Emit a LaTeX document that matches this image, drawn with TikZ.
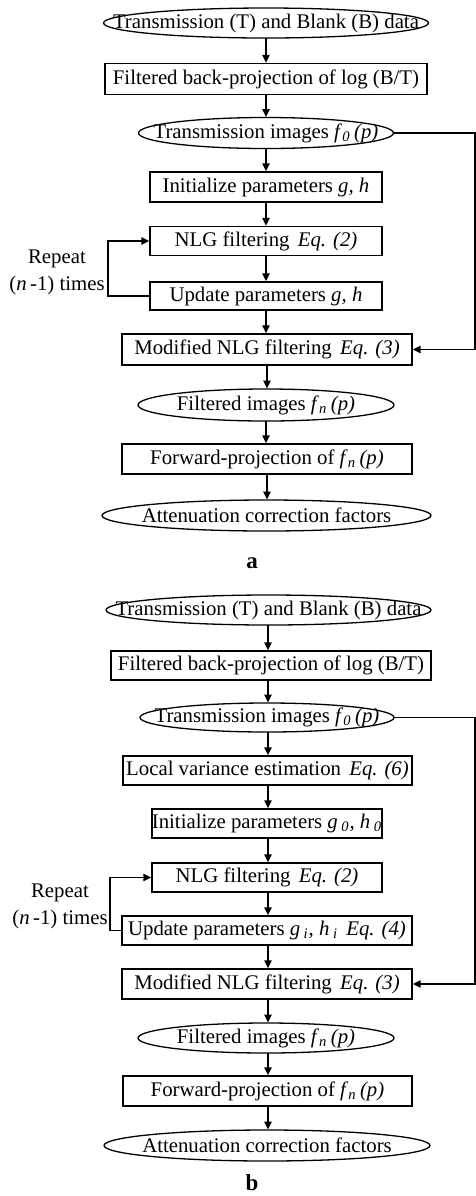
\documentclass[tikz,border=0pt]{standalone}
\usepackage{fontspec}
\setmainfont{Liberation Serif}
\usetikzlibrary{arrows.meta}
\newcommand{\fsub}[1]{\textit{f}\textsubscript{\textit{#1}}\,\textit{(p)}}
\begin{document}
\begin{tikzpicture}[x=0.5pt,y=-0.5pt,
  every node/.style={font=\fontsize{10.4}{12.5}\selectfont, inner sep=0pt},
  stepbox/.style={draw, line width=0.65pt},
  ellbox/.style={},
  ellline/.style={line width=0.65pt},
  flow/.style={line width=0.8pt, -{Triangle[length=4pt,width=3.6pt]}},
  lbl/.style={font=\fontsize{11.5}{13}\selectfont\bfseries},
  reptext/.style={align=center, font=\fontsize{10.4}{13.5}\selectfont}
]
\useasboundingbox (0,0) rectangle (476,1196);

% ---------------- part a ----------------
\node[ellbox, minimum width=162.5pt, minimum height=15pt] (a1) at (266,23) {Transmission (T) and Blank (B) data};
\draw[ellline] (a1.center) ellipse [x radius=81.25pt, y radius=7.5pt];
\node[stepbox, minimum width=161pt, minimum height=15.5pt] (a2) at (266,79) {Filtered back-projection of log (B/T)};
\node[ellbox, minimum width=127.5pt, minimum height=15.5pt] (a3) at (266,133) {Transmission images \fsub{0}};
\draw[ellline] (a3.center) ellipse [x radius=63.75pt, y radius=7.75pt];
\node[stepbox, minimum width=116pt, minimum height=15pt] (a4) at (266,187) {Initialize parameters \textit{g, h}};
\node[stepbox, minimum width=116pt, minimum height=14.5pt] (a5) at (266,241) {NLG filtering\hspace{0.4em}\textit{Eq. (2)}};
\node[stepbox, minimum width=116pt, minimum height=14pt] (a6) at (266,296) {Update parameters \textit{g, h}};
\node[stepbox, minimum width=145pt, minimum height=15.5pt] (a7) at (267,349.5) {Modified NLG filtering\hspace{0.4em}\textit{Eq. (3)}};
\node[ellbox, minimum width=128pt, minimum height=16pt] (a8) at (266,405) {Filtered images \fsub{n}};
\draw[ellline] (a8.center) ellipse [x radius=64pt, y radius=8pt];
\node[stepbox, minimum width=145pt, minimum height=15pt] (a9) at (267,459) {Forward-projection of \fsub{n}};
\node[ellbox, minimum width=164.5pt, minimum height=15.5pt] (a10) at (266.5,515.5) {Attenuation correction factors};
\draw[ellline] (a10.center) ellipse [x radius=82.25pt, y radius=7.75pt];
\node[lbl] (la) at (252,563) {a};

\draw[flow] (a1.south) -- (a1.south |- a2.north);
\draw[flow] (a2.south) -- (a2.south |- a3.north);
\draw[flow] (a3.south) -- (a3.south |- a4.north);
\draw[flow] (a4.south) -- (a4.south |- a5.north);
\draw[flow] (a5.south) -- (a5.south |- a6.north);
\draw[flow] (a6.south) -- (a6.south |- a7.north);
\draw[flow] (a7.south) -- (a7.south |- a8.north);
\draw[flow] (a8.south) -- (a8.south |- a9.north);
\draw[flow] (a9.south) -- (a9.south |- a10.north);

\coordinate (ra) at (475,0);
\draw[flow] (a3.east) -- (a3.east -| ra) |- (a7.east);
\coordinate (loopa) at (108,0);
\draw[flow] (a6.west) -- (a6.west -| loopa) |- (a5.west);
\node[reptext] (repa) at (57,272) {Repeat\\(\textit{n}\,-1) times};

% ---------------- part b ----------------
\node[ellbox, minimum width=162.5pt, minimum height=15pt] (b1) at (268.5,610) {Transmission (T) and Blank (B) data};
\draw[ellline] (b1.center) ellipse [x radius=81.25pt, y radius=7.5pt];
\node[stepbox, minimum width=160pt, minimum height=14.5pt] (b2) at (271,665.5) {Filtered back-projection of log (B/T)};
\node[ellbox, minimum width=127pt, minimum height=14.5pt] (b3) at (267,717.5) {Transmission images \fsub{0}};
\draw[ellline] (b3.center) ellipse [x radius=63.5pt, y radius=7.25pt];
\node[stepbox, minimum width=144.5pt, minimum height=14.5pt] (b4) at (267.5,770.5) {Local variance estimation\hspace{0.4em}\textit{Eq. (6)}};
\node[stepbox, minimum width=115pt, minimum height=14.5pt] (b5) at (267,823.5) {Initialize parameters \textit{g}\,\textsubscript{\textit{0}}, \textit{h}\,\textsubscript{\textit{0}}};
\node[stepbox, minimum width=115pt, minimum height=14.5pt] (b6) at (267,877.5) {NLG filtering\hspace{0.4em}\textit{Eq. (2)}};
\node[stepbox, minimum width=145pt, minimum height=14.5pt] (b7) at (267,930.5) {Update parameters \textit{g}\,\textsubscript{\textit{i}}, \textit{h}\,\textsubscript{\textit{i}}\hspace{0.4em}\textit{Eq. (4)}};
\node[stepbox, minimum width=145pt, minimum height=15pt] (b8) at (267,984) {Modified NLG filtering\hspace{0.4em}\textit{Eq. (3)}};
\node[ellbox, minimum width=128pt, minimum height=15pt] (b9) at (266,1038) {Filtered images \fsub{n}};
\draw[ellline] (b9.center) ellipse [x radius=64pt, y radius=7.5pt];
\node[stepbox, minimum width=144.5pt, minimum height=15pt] (b10) at (267.5,1091) {Forward-projection of \fsub{n}};
\node[ellbox, minimum width=163pt, minimum height=15.5pt] (b11) at (267,1145.5) {Attenuation correction factors};
\draw[ellline] (b11.center) ellipse [x radius=81.5pt, y radius=7.75pt];
\node[lbl] (lb) at (252,1183) {b};

\coordinate (colb) at (268,0);
\draw[flow] (b1.south -| colb) -- (colb |- b2.north);
\draw[flow] (b2.south -| colb) -- (colb |- b3.north);
\draw[flow] (b3.south -| colb) -- (colb |- b4.north);
\draw[flow] (b4.south -| colb) -- (colb |- b5.north);
\draw[flow] (b5.south -| colb) -- (colb |- b6.north);
\draw[flow] (b6.south -| colb) -- (colb |- b7.north);
\draw[flow] (b7.south -| colb) -- (colb |- b8.north);
\draw[flow] (b8.south -| colb) -- (colb |- b9.north);
\draw[flow] (b9.south -| colb) -- (colb |- b10.north);
\draw[flow] (b10.south -| colb) -- (colb |- b11.north);

\draw[flow] (b3.east) -- (b3.east -| ra) |- (b8.east);
\coordinate (loopb) at (110,0);
\draw[flow] (b7.west) -- (b7.west -| loopb) |- (b6.west);
\node[reptext] (repb) at (60,906) {Repeat\\(\textit{n}\,-1) times};
\end{tikzpicture}
\end{document}
